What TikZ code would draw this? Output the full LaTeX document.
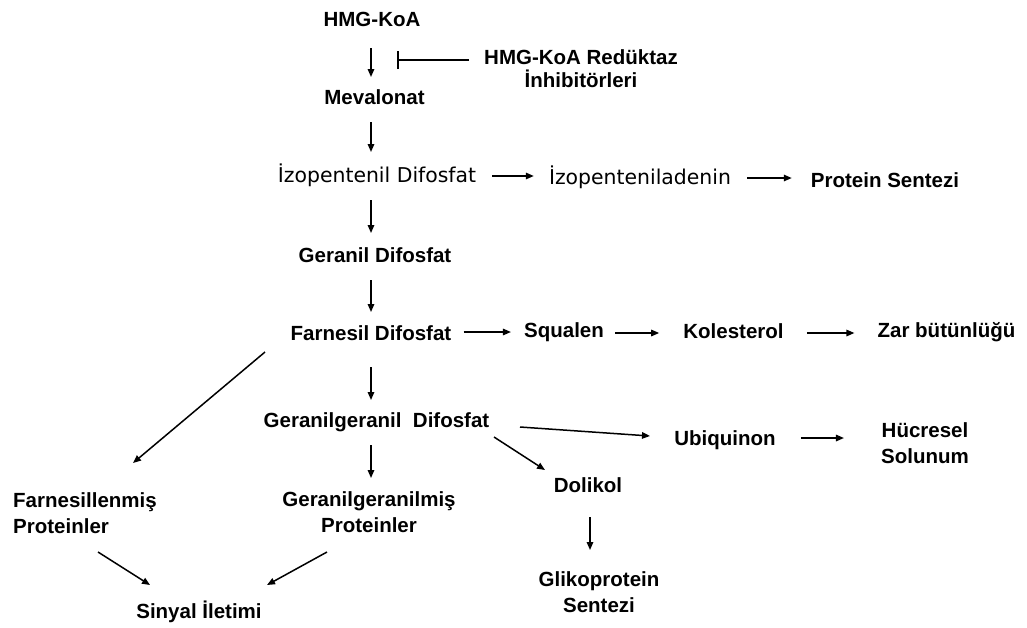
\documentclass[tikz,border=0pt]{standalone}
\usepackage{fontspec}
\setmainfont{Liberation Sans}
\newfontfamily\vfont{DejaVu Sans}
\usetikzlibrary{arrows.meta,calc}

\begin{document}
\begin{tikzpicture}[x=1pt,y=-1pt,
  lbl/.style={inner sep=0pt,anchor=base,font=\fontsize{20.5}{25.5}\selectfont\bfseries},
  lightlbl/.style={inner sep=0pt,anchor=base,font=\vfont\fontsize{20.4}{25}\selectfont},
  link/.style={line width=1.5pt,-{Triangle[length=8pt,width=6.5pt]}},
  raise/.style={transform canvas={yshift=#1}}]

\useasboundingbox (0,0) rectangle (1027,627);

% main column
\coordinate (axis) at (371,0);
\node[lbl] (hmg) at (372,26) {HMG-KoA};
\node[lbl,align=center] (inhib) at (581,87) {HMG-KoA Redüktaz\\[-2.5pt]İnhibitörleri};
\node[lbl] (meval) at (374.5,104) {Mevalonat};
\node[lightlbl] (izop) at (377,182) {İzopentenil Difosfat};
\node[lightlbl] (izoad) at (640,184) {İzopenteniladenin};
\node[lbl] (protsent) at (885,187.5) {Protein Sentezi};
\node[lbl] (geranil) at (375,262) {Geranil Difosfat};
\node[lbl] (farnesil) at (371,340) {Farnesil Difosfat};
\node[lbl] (squalen) at (564,337) {Squalen};
\node[lbl] (kolest) at (733.5,338) {Kolesterol};
\node[lbl] (zar) at (946.5,337) {Zar bütünlüğü};
\node[lbl] (gg) at (376.5,427) {Geranilgeranil\ \ Difosfat};
\node[lbl] (ubiq) at (725,445) {Ubiquinon};
\node[lbl,align=center] (hucresel) at (925,463) {Hücresel\\Solunum};
\node[lbl] (dolikol) at (588,492) {Dolikol};
\node[lbl,align=center] (glikop) at (599,612) {Glikoprotein\\Sentezi};
\node[lbl,align=left,anchor=base west] (farnesillenmis) at (13,533) {Farnesillenmiş\\Proteinler};
\node[lbl,align=center] (ggmis) at (369,532) {Geranilgeranilmiş\\Proteinler};
\node[lbl] (sinyal) at (199,618) {Sinyal İletimi};

% down the column
\draw[link,shorten <=22pt,shorten >=27pt] (axis |- hmg.base) -- (axis |- meval.base);
\draw[link,shorten <=18pt,shorten >=30pt] (axis |- meval.base) -- (axis |- izop.base);
\draw[link,shorten <=18pt,shorten >=29pt] (axis |- izop.base) -- (axis |- geranil.base);
\draw[link,shorten <=18pt,shorten >=28pt] (axis |- geranil.base) -- (axis |- farnesil.base);
\draw[link,shorten <=27pt,shorten >=27pt] (axis |- farnesil.base) -- (axis |- gg.base);
\draw[link,shorten <=18pt,shorten >=54pt] (axis |- gg.base) -- (axis |- ggmis.base);
\draw[link,shorten <=25pt,shorten >=62pt] ([xshift=2pt]dolikol.base) -- ([xshift=2pt]dolikol.base |- glikop.base);

% inhibitor
\draw[line width=1.5pt,-{Bar[width=18pt]}] ($(inhib.base west)+(-15,-27)$) -- ($(hmg.base)+(25,34)$);

% side branches
\draw[link,raise=6pt,shorten <=16pt,shorten >=15pt] (izop.base east) -- (izop.base east -| izoad.base west);
\draw[link,raise=6pt,shorten <=16pt,shorten >=19pt] (izoad.base east) -- (izoad.base east -| protsent.base west);
\draw[link,raise=8pt,shorten <=12pt,shorten >=13pt] (farnesil.base east) -- (farnesil.base east -| squalen.base west);
\draw[link,raise=7pt,shorten <=11pt,shorten >=24pt] (squalen.base east |- farnesil.base) -- (farnesil.base -| kolest.base west);
\draw[link,raise=7pt,shorten <=23pt,shorten >=23pt] (kolest.base east |- farnesil.base) -- (farnesil.base -| zar.base west);
\draw[link,raise=7pt,shorten <=25pt,shorten >=37pt] (ubiq.base east) -- (ubiq.base east -| hucresel.west);

% diagonals
\draw[link] ($(farnesil.base)+(-106,12)$) -- ($(farnesillenmis.base west)+(120,-70)$);
\draw[link] ($(farnesillenmis.base west)+(85,19)$) -- ($(sinyal.base)+(-49,-33)$);
\draw[link] ($(ggmis.base)+(-42,20)$) -- ($(sinyal.base)+(68,-33)$);
\draw[link] ($(gg.base)+(143.5,0)$) -- ($(ubiq.base)+(-75,-9)$);
\draw[link] ($(gg.base)+(117.5,10)$) -- ($(dolikol.base)+(-43,-22)$);

\end{tikzpicture}
\end{document}
